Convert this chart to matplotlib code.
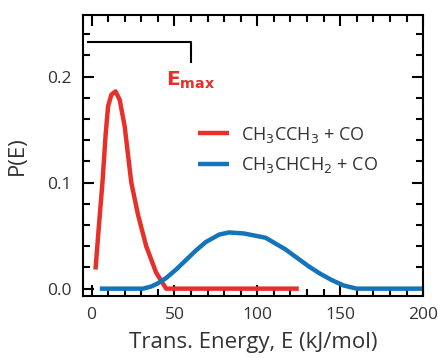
import numpy as np
import matplotlib
matplotlib.use("Agg")
import matplotlib.pyplot as plt
from matplotlib.ticker import MultipleLocator

plt.rcParams['font.family'] = ['Open Sans', 'DejaVu Sans']

# CH3CCH3 + CO distribution (red)
E_red = [2.4, 4.5, 6.6, 8.5, 10, 12, 14.5, 17, 20, 24, 28, 33, 39, 45, 60, 90, 125]
P_red = [0.018, 0.06, 0.10, 0.145, 0.172, 0.183, 0.186, 0.178, 0.153, 0.10, 0.07,
         0.04, 0.015, 0.0, 0.0, 0.0, 0.0]

# CH3CHCH2 + CO distribution (blue)
E_blue = [5, 20, 31, 36, 40, 45, 51, 57, 63, 69, 77, 83, 92, 105, 117, 124, 131,
          138, 145, 152, 160, 180, 200]
P_blue = [0.0, 0.0, 0.0, 0.002, 0.005, 0.010, 0.018, 0.027, 0.036, 0.044, 0.051,
          0.053, 0.052, 0.048, 0.037, 0.029, 0.021, 0.014, 0.008, 0.003, 0.0, 0.0, 0.0]

red = '#E8302A'
blue = '#1474B9'
grey = '#333333'

fig, ax = plt.subplots(figsize=(4.38, 3.58), dpi=100)
fig.subplots_adjust(left=0.19, right=0.966, top=0.958, bottom=0.173)

ax.plot(E_red, P_red, color=red, lw=3.2, label="CH$_3$CCH$_3$ + CO", solid_capstyle='butt')
ax.plot(E_blue, P_blue, color=blue, lw=3.2, label="CH$_3$CHCH$_2$ + CO", solid_capstyle='butt')

# Emax bracket
ax.plot([-2, 60, 60], [0.233, 0.233, 0.214], color='black', lw=1.5)
ax.text(45, 0.196, r"$\mathbf{E_{max}}$", color=red, fontsize=14.5, ha='left', va='center')

ax.set_xlim(-5, 200)
ax.set_ylim(-0.007, 0.258)
ax.xaxis.set_major_locator(MultipleLocator(50))
ax.xaxis.set_minor_locator(MultipleLocator(10))
ax.yaxis.set_major_locator(MultipleLocator(0.1))
ax.yaxis.set_minor_locator(MultipleLocator(0.02))
ax.tick_params(which='both', direction='in', top=True, right=True, width=1.5,
               colors='black', labelcolor=grey, labelsize=12.5, pad=8)
ax.tick_params(which='major', length=8)
ax.tick_params(which='minor', length=5)
for s in ax.spines.values():
    s.set_linewidth(1.5)

ax.set_xlabel("Trans. Energy, E (kJ/mol)", fontsize=16, color=grey, labelpad=6)
ax.set_ylabel("P(E)", fontsize=16, color=grey, labelpad=14)

ax.legend(loc='center left', bbox_to_anchor=(0.29, 0.52), frameon=False, fontsize=13,
          handlelength=1.7, handletextpad=0.7, labelspacing=0.6, labelcolor=grey)

fig.savefig("out.png", dpi=100)
